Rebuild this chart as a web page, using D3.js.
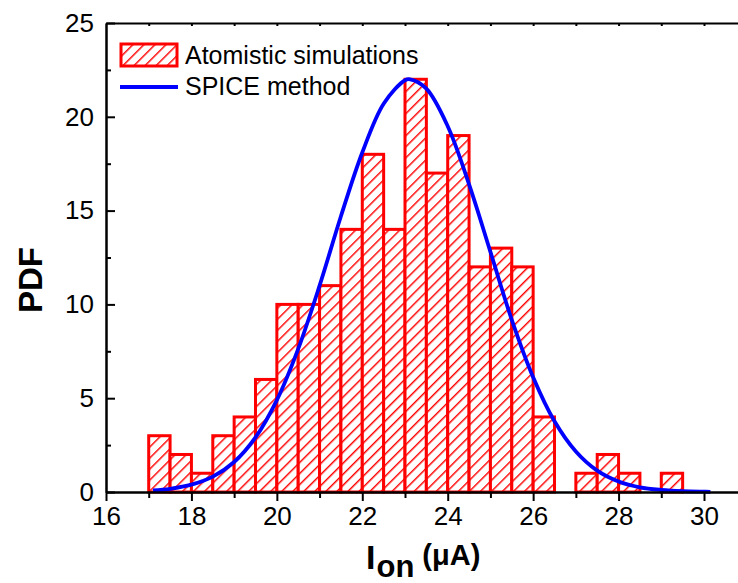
<!DOCTYPE html>
<html>
<head>
<meta charset="utf-8">
<script src="https://cdn.jsdelivr.net/npm/d3@7"></script>
<style>
  html, body { margin: 0; padding: 0; background: #fff; }
  svg { display: block; font-family: Arial, "Liberation Sans", sans-serif; }
</style>
</head>
<body>
<svg id="chart" width="738" height="583"></svg>
<script>
// ---- data ----
const binStarts = [17, 17.5, 18, 18.5, 19, 19.5, 20, 20.5, 21, 21.5, 22, 22.5, 23, 23.5, 24, 24.5, 25, 25.5, 26, 26.5, 27, 27.5, 28, 28.5, 29];
const pdfValues = [3, 2, 1, 3, 4, 6, 10, 10, 11, 14, 18, 14, 22, 17, 19, 12, 13, 12, 4, 0, 1, 2, 1, 0, 1];
const binWidth = 0.5;

const spiceX = [17.1, 17.5, 18, 18.5, 19, 19.5, 20, 20.5, 21, 21.5, 22, 22.5, 23, 23.12, 23.5, 24, 24.5, 25, 25.5, 26, 26.5, 27, 27.5, 28, 28.5, 29, 29.5, 30, 30.15];
const spiceY = [0.08, 0.17, 0.39, 0.82, 1.6, 2.91, 4.9, 7.63, 11.0, 14.7, 18.1, 20.7, 21.95, 22.0, 21.5, 19.5, 16.4, 12.8, 9.18, 6.12, 3.77, 2.16, 1.14, 0.56, 0.25, 0.11, 0.04, 0.015, 0.01];

const xMajorTicks = [16, 18, 20, 22, 24, 26, 28, 30];
const xMinorTicks = [17, 19, 21, 23, 25, 27, 29, 31];
const xTopTicks = [17, 18, 19, 20, 21, 22, 23, 24, 25, 26, 27, 28, 29, 30, 31];
const yMajorTicks = [0, 5, 10, 15, 20, 25];
const yMinorTicks = [2.5, 7.5, 12.5, 17.5, 22.5];

const legendLabels = ["Atomistic simulations", "SPICE method"];
const xTitleMain = "I", xTitleSub = "on", xTitleUnit = "(\u03BCA)";
const yTitle = "PDF";

// ---- layout ----
const svg = d3.select("#chart");
const plotLeft = 106, plotTop = 23, plotBottom = 492;
const pxPerUnit = (704 - 106) / 14;
const x = d3.scaleLinear().domain([16, 31.5]).range([plotLeft, plotLeft + 15.5 * pxPerUnit]);
const y = d3.scaleLinear().domain([0, 25]).range([plotBottom, plotTop]);

const red = "#ff0000", blue = "#0000ff";

// hatch pattern
const defs = svg.append("defs");
const pat = defs.append("pattern")
  .attr("id", "hatch")
  .attr("patternUnits", "userSpaceOnUse")
  .attr("width", 7.8).attr("height", 7.8)
  .attr("patternTransform", "rotate(45)");
pat.append("rect").attr("width", 7.8).attr("height", 7.8).attr("fill", "#fff");
pat.append("line").attr("x1", 0).attr("y1", 0).attr("x2", 0).attr("y2", 7.8)
  .attr("stroke", red).attr("stroke-width", 2.9);

// bars
const bars = binStarts.map((b, i) => ({ b, v: pdfValues[i] })).filter(d => d.v > 0);
svg.append("g").selectAll("rect").data(bars).join("rect")
  .attr("x", d => x(d.b))
  .attr("y", d => y(d.v))
  .attr("width", d => x(d.b + binWidth) - x(d.b))
  .attr("height", d => y(0) - y(d.v))
  .attr("fill", "url(#hatch)")
  .attr("stroke", red)
  .attr("stroke-width", 3);

// curve
const line = d3.line().x(d => x(d[0])).y(d => y(d[1])).curve(d3.curveCatmullRom);
svg.append("path")
  .datum(spiceX.map((v, i) => [v, spiceY[i]]))
  .attr("d", line)
  .attr("fill", "none")
  .attr("stroke", blue)
  .attr("stroke-width", 3.8);

// axes
function styleAxis(g, sw) {
  g.selectAll("path.domain").attr("stroke", "#000").attr("stroke-width", sw);
  g.selectAll(".tick line").attr("stroke", "#000").attr("stroke-width", sw);
  g.selectAll(".tick text").attr("fill", "#000").attr("font-family", "Arial, 'Liberation Sans', sans-serif");
}

// top axis (inward ticks)
const gTop = svg.append("g").attr("transform", `translate(0,${plotTop})`)
  .call(d3.axisTop(x).tickValues(xTopTicks).tickSize(-3).tickSizeOuter(0).tickFormat(""));
styleAxis(gTop, 2);

// bottom minor
const gBotMin = svg.append("g").attr("transform", `translate(0,${plotBottom})`)
  .call(d3.axisBottom(x).tickValues(xMinorTicks).tickSize(6).tickSizeOuter(0).tickFormat(""));
styleAxis(gBotMin, 2);
// bottom major
const gBot = svg.append("g").attr("transform", `translate(0,${plotBottom})`)
  .call(d3.axisBottom(x).tickValues(xMajorTicks).tickSize(9).tickSizeOuter(0).tickPadding(6).tickFormat(d3.format("d")));
styleAxis(gBot, 2);
gBot.selectAll(".tick text").attr("font-size", 26);

// left minor (inward)
const gLeftMin = svg.append("g").attr("transform", `translate(${plotLeft},0)`)
  .call(d3.axisLeft(y).tickValues(yMinorTicks).tickSize(-5).tickSizeOuter(0).tickFormat(""));
styleAxis(gLeftMin, 2);
const gLeft = svg.append("g").attr("transform", `translate(${plotLeft},0)`)
  .call(d3.axisLeft(y).tickValues(yMajorTicks).tickSize(-9).tickSizeOuter(0).tickPadding(12).tickFormat(d3.format("d")));
styleAxis(gLeft, 2);
gLeft.selectAll(".tick text").attr("font-size", 26);

// legend
const lg = svg.append("g");
lg.append("rect").attr("x", 121).attr("y", 44).attr("width", 56).attr("height", 22)
  .attr("fill", "url(#hatch)").attr("stroke", red).attr("stroke-width", 3);
lg.append("text").attr("x", 185).attr("y", 64).attr("font-size", 25).attr("fill", "#000").text(legendLabels[0]);
lg.append("line").attr("x1", 120).attr("x2", 178).attr("y1", 87).attr("y2", 87)
  .attr("stroke", blue).attr("stroke-width", 3.8);
lg.append("text").attr("x", 185).attr("y", 95).attr("font-size", 25).attr("fill", "#000").text(legendLabels[1]);

// axis titles
svg.append("text")
  .attr("transform", "translate(42,280) rotate(-90)")
  .attr("text-anchor", "middle")
  .attr("font-size", 33).attr("font-weight", "bold").attr("fill", "#000")
  .text(yTitle);

const xt = svg.append("text").attr("x", 366).attr("y", 569)
  .attr("font-weight", "bold").attr("fill", "#000");
xt.append("tspan").attr("font-size", 34).text(xTitleMain);
xt.append("tspan").attr("font-size", 31).attr("dy", 8).attr("dx", 1).text(xTitleSub);
xt.append("tspan").attr("font-size", 29).attr("dy", -12).attr("dx", 8).text(xTitleUnit);
</script>
</body>
</html>
